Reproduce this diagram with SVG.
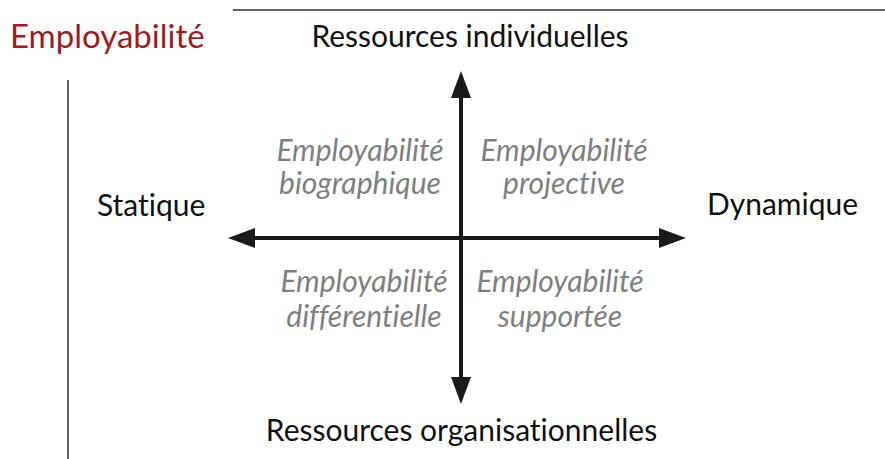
<svg xmlns="http://www.w3.org/2000/svg" width="885" height="459" viewBox="0 0 885 459">
<defs>
<style>
text{font-variant-ligatures:none;font-feature-settings:"liga" 0,"dlig" 0}
.t{font-family:Lato,"Liberation Sans",sans-serif;font-size:30px;fill:#111}
.q{font-family:Lato,"Liberation Sans",sans-serif;font-size:30px;font-style:italic;fill:#7f7f7f;text-anchor:middle}
.ax{stroke:#1a1a1a;stroke-width:4;fill:none}
.hd{fill:#1a1a1a}
</style>
</defs>
<rect width="885" height="459" fill="#fff"/>
<line x1="233" y1="10" x2="885" y2="10" stroke="#333" stroke-width="1.5"/>
<line x1="68" y1="80" x2="68" y2="459" stroke="#333" stroke-width="1.5"/>
<g id="title"><text x="10" y="48" class="t" style="fill:#a11a22;font-size:33px">Employabilité</text></g>
<g id="connectors">
<line class="ax" x1="461" y1="95" x2="461" y2="380"/>
<line class="ax" x1="252" y1="238" x2="662" y2="238"/>
<polygon class="hd" points="461,71 451,98 471,98"/>
<polygon class="hd" points="461,404 451,377 471,377"/>
<polygon class="hd" points="228,238 255,228 255,248"/>
<polygon class="hd" points="686,238 659,228 659,248"/>
</g>
<g id="top"><text x="470" y="47" class="t" text-anchor="middle">Ressources individuelles</text></g>
<g id="bottom"><text x="461.5" y="441" class="t" text-anchor="middle">Ressources organisationnelles</text></g>
<g id="left"><text x="97" y="216" class="t">Statique</text></g>
<g id="right"><text x="707" y="215" class="t">Dynamique</text></g>
<g id="q1"><text class="q" x="360" y="161">Employabilité</text><text class="q" x="360" y="194">biographique</text></g>
<g id="q2"><text class="q" x="564" y="161">Employabilité</text><text class="q" x="564" y="194">projective</text></g>
<g id="q3"><text class="q" x="364" y="292">Employabilité</text><text class="q" x="364" y="327">différentielle</text></g>
<g id="q4"><text class="q" x="560" y="292">Employabilité</text><text class="q" x="560" y="327">supportée</text></g>
</svg>
